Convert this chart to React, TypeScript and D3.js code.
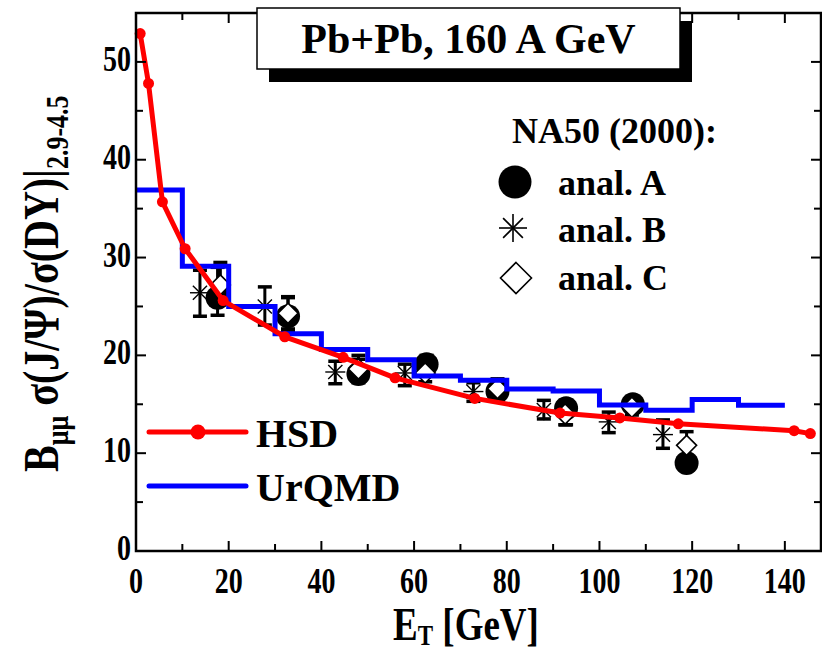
import React from "react";
import * as d3 from "d3";

// HSD curve (E_T, ratio)
const hsdX = [0.9, 2.7, 5.7, 10.6, 18.8, 32.1, 44.7, 55.9, 73.1, 91.5, 104.4, 117, 142, 145.5];
const hsdY = [52.9, 47.8, 35.7, 30.9, 25.6, 21.9, 19.8, 17.7, 15.6, 14.1, 13.6, 13.0, 12.3, 12.0];

// UrQMD histogram: bin edges and values
const urqmdEdges = [0, 10, 20, 30, 40, 50, 60, 70, 80, 90, 100, 110, 120, 130, 140];
const urqmdVals = [36.9, 29.1, 25.0, 22.2, 20.6, 19.55, 17.9, 17.45, 16.56, 16.36, 14.93, 14.4, 15.5, 14.9];

// NA50 analysis A (filled circles)
const aX = [17.6, 32.8, 48.0, 62.7, 78.0, 92.8, 107.2, 118.8];
const aY = [25.9, 24.0, 18.1, 19.1, 16.3, 14.6, 15.0, 9.0];
const aLo = [24.1, 22.5, 17.2, 18.3, 15.3, 12.9, 14.2, 8.3];
const aHi = [29.0, 25.9, 19.6, 20.0, 17.3, 15.4, 15.7, 9.6];

// NA50 analysis B (asterisks)
const bX = [13.8, 27.8, 43.0, 58.0, 72.8, 88.0, 102.0, 113.7];
const bY = [26.4, 25.0, 18.3, 18.2, 16.3, 14.4, 13.2, 11.9];
const bLo = [24.0, 23.1, 17.1, 16.9, 15.3, 13.5, 12.1, 10.5];
const bHi = [28.7, 27.0, 19.4, 19.1, 17.2, 15.4, 14.2, 13.4];

// NA50 analysis C (open diamonds)
const cX = [18.2, 32.8, 48.0, 62.4, 78.0, 92.6, 107.0, 118.8];
const cY = [27.2, 24.3, 18.6, 18.2, 16.6, 14.0, 14.7, 10.8];
const cLo = [25.5, 22.7, 17.5, 17.3, 15.5, 12.9, 13.9, 9.5];
const cHi = [29.5, 26.0, 20.0, 19.2, 17.6, 15.0, 15.6, 12.2];

const xMajor = [0, 20, 40, 60, 80, 100, 120, 140];
const xMinor = [10, 30, 50, 70, 90, 110, 130];
const yMajor = [0, 10, 20, 30, 40, 50];
const yMinor = [5, 15, 25, 35, 45];

const W = 822;
const H = 653;
const L = 136, R = 821, T = 13, B = 551;
const FONT = "'Liberation Serif', 'Times New Roman', serif";

const x = d3.scaleLinear().domain([0, 147.8]).range([L, R]);
const y = d3.scaleLinear().domain([0, 55]).range([B, T]);

function Asterisk({ cx, cy, s, sw }: { cx: number; cy: number; s: number; sw: number }) {
  const d = s * 0.7071;
  return (
    <g stroke="#000" strokeWidth={sw}>
      <line x1={cx - s} y1={cy} x2={cx + s} y2={cy} />
      <line x1={cx} y1={cy - s} x2={cx} y2={cy + s} />
      <line x1={cx - d} y1={cy - d} x2={cx + d} y2={cy + d} />
      <line x1={cx - d} y1={cy + d} x2={cx + d} y2={cy - d} />
    </g>
  );
}

function Diamond({ cx, cy, s }: { cx: number; cy: number; s: number }) {
  return (
    <path
      d={`M${cx},${cy - s}L${cx + s},${cy}L${cx},${cy + s}L${cx - s},${cy}Z`}
      fill="#fff"
      stroke="#000"
      strokeWidth={1.6}
    />
  );
}

function ErrBar({ xv, lo, hi }: { xv: number; lo: number; hi: number }) {
  const px = x(xv);
  const cw = 7;
  return (
    <g stroke="#000">
      <line x1={px} x2={px} y1={y(lo)} y2={y(hi)} strokeWidth={3} />
      <line x1={px - cw} x2={px + cw} y1={y(lo)} y2={y(lo)} strokeWidth={3.5} />
      <line x1={px - cw} x2={px + cw} y1={y(hi)} y2={y(hi)} strokeWidth={3.5} />
    </g>
  );
}

export default function App() {
  const hsdLine = d3
    .line<number>()
    .x((_, i) => x(hsdX[i]))
    .y((v) => y(v))(hsdY);

  const stepPts: [number, number][] = [];
  urqmdVals.forEach((v, i) => {
    stepPts.push([urqmdEdges[i], v]);
    stepPts.push([urqmdEdges[i + 1] ?? urqmdEdges[i] + 10, v]);
  });
  const urqmdLine = d3
    .line<[number, number]>()
    .x((d) => x(d[0]))
    .y((d) => y(d[1]))(stepPts);

  const tickLen = 10;
  const minorLen = 7;
  const sy = 1.3;

  return (
    <svg
      width={W}
      height={H}
      style={{ position: "absolute", left: 0, top: 0, background: "#fff" }}
      fontFamily={FONT}
      fontWeight="bold"
    >
      <rect x={0} y={0} width={W} height={H} fill="#fff" />

      {/* data: error bars */}
      {aX.map((v, i) => (
        <ErrBar key={"ea" + i} xv={v} lo={aLo[i]} hi={aHi[i]} />
      ))}
      {bX.map((v, i) => (
        <ErrBar key={"eb" + i} xv={v} lo={bLo[i]} hi={bHi[i]} />
      ))}
      {cX.map((v, i) => (
        <ErrBar key={"ec" + i} xv={v} lo={cLo[i]} hi={cHi[i]} />
      ))}
      {aX.map((v, i) => (
        <circle key={"a" + i} cx={x(v)} cy={y(aY[i])} r={12} fill="#000" />
      ))}
      {bX.map((v, i) => (
        <Asterisk key={"b" + i} cx={x(v)} cy={y(bY[i])} s={10} sw={1.4} />
      ))}
      {cX.map((v, i) => (
        <Diamond key={"c" + i} cx={x(v)} cy={y(cY[i])} s={10} />
      ))}

      {/* model curves */}
      <path d={urqmdLine ?? ""} fill="none" stroke="#0000ff" strokeWidth={5} strokeLinejoin="miter" />
      <path d={hsdLine ?? ""} fill="none" stroke="#ff0000" strokeWidth={5} strokeLinejoin="round" />
      {hsdX.map((v, i) => (
        <circle key={"h" + i} cx={x(v)} cy={y(hsdY[i])} r={5.5} fill="#ff0000" />
      ))}

      {/* frame */}
      <rect x={L} y={T} width={R - L} height={B - T} fill="none" stroke="#000" strokeWidth={2.5} />
      {xMajor.map((v) => (
        <g key={"xt" + v} stroke="#000" strokeWidth={2}>
          <line x1={x(v)} x2={x(v)} y1={B} y2={B - tickLen} />
          <line x1={x(v)} x2={x(v)} y1={T} y2={T + tickLen} />
        </g>
      ))}
      {xMinor.map((v) => (
        <g key={"xm" + v} stroke="#000" strokeWidth={2}>
          <line x1={x(v)} x2={x(v)} y1={B} y2={B - minorLen} />
          <line x1={x(v)} x2={x(v)} y1={T} y2={T + minorLen} />
        </g>
      ))}
      {yMajor.map((v) => (
        <g key={"yt" + v} stroke="#000" strokeWidth={2}>
          <line x1={L} x2={L + tickLen} y1={y(v)} y2={y(v)} />
          <line x1={R} x2={R - tickLen} y1={y(v)} y2={y(v)} />
        </g>
      ))}
      {yMinor.map((v) => (
        <g key={"ym" + v} stroke="#000" strokeWidth={2}>
          <line x1={L} x2={L + minorLen} y1={y(v)} y2={y(v)} />
          <line x1={R} x2={R - minorLen} y1={y(v)} y2={y(v)} />
        </g>
      ))}

      {/* tick labels */}
      {xMajor.map((v) => (
        <text
          key={"xl" + v}
          transform={`translate(${x(v)},593) scale(1,${sy})`}
          textAnchor="middle"
          fontSize={28}
        >
          {v}
        </text>
      ))}
      {yMajor.map((v) => (
        <text
          key={"yl" + v}
          transform={`translate(131,${y(v) + 9}) scale(1,${sy})`}
          textAnchor="end"
          fontSize={28}
        >
          {v}
        </text>
      ))}

      {/* axis titles */}
      <text transform={`translate(466,640) scale(1,1.25)`} textAnchor="middle" fontSize={37}>
        E<tspan fontSize={23} dy={4}>T</tspan>
        <tspan dy={-4}> [GeV]</tspan>
      </text>
      <text transform={`translate(58,472) rotate(-90) scale(1,1.25)`} fontSize={40}>
        B<tspan fontSize={26} dy={8}>μμ</tspan>
        <tspan dy={-8}> σ(J/Ψ)/σ(DY)|</tspan>
        <tspan fontSize={26} dy={8}>2.9-4.5</tspan>
      </text>

      {/* title box */}
      <rect x={269} y={21} width={423} height={61} fill="#000" />
      <rect x={257} y={8} width={423} height={61} fill="#fff" stroke="#000" strokeWidth={1.5} />
      <text x={468.5} y={53} textAnchor="middle" fontSize={42}>
        Pb+Pb, 160 A GeV
      </text>

      {/* NA50 legend */}
      <text x={512} y={143} fontSize={36}>NA50 (2000):</text>
      <circle cx={515} cy={182} r={16.5} fill="#000" />
      <text x={558} y={195} fontSize={36}>anal. A</text>
      <Asterisk cx={513} cy={228} s={14} sw={1.6} />
      <text x={558} y={242} fontSize={36}>anal. B</text>
      <Diamond cx={516} cy={278} s={15.5} />
      <text x={558} y={290} fontSize={36}>anal. C</text>

      {/* model legend */}
      <line x1={149} x2={246} y1={432} y2={432} stroke="#ff0000" strokeWidth={5} strokeLinecap="round" />
      <circle cx={198} cy={432} r={7.5} fill="#ff0000" />
      <text x={256} y={447} fontSize={40}>HSD</text>
      <line x1={149} x2={246} y1={486} y2={486} stroke="#0000ff" strokeWidth={5} strokeLinecap="round" />
      <text x={256} y={501} fontSize={40}>UrQMD</text>
    </svg>
  );
}
